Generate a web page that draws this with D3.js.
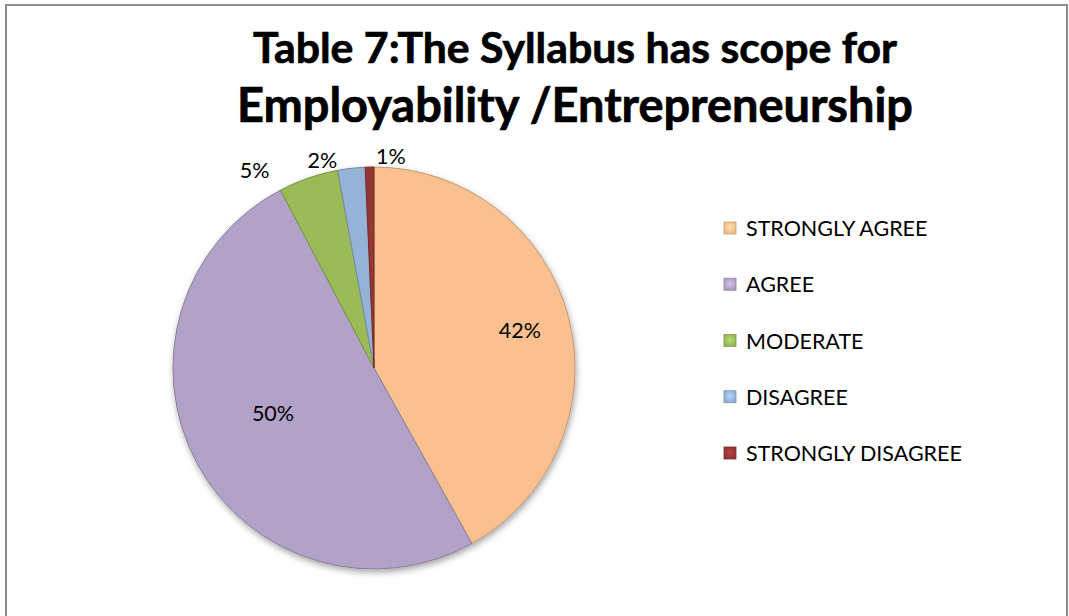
<!DOCTYPE html>
<html>
<head>
<meta charset="utf-8">
<script src="https://cdn.jsdelivr.net/npm/d3@7"></script>
<style>
  html, body { margin: 0; padding: 0; background: #ffffff; }
  svg { display: block; }
</style>
</head>
<body>
<svg id="chart" width="1069" height="616"></svg>
<script>
// ---- data ----
const categories = ["STRONGLY AGREE", "AGREE", "MODERATE", "DISAGREE", "STRONGLY DISAGREE"];
const values = [41.9, 50.4, 4.8, 2.2, 0.7];
const colors = ["#FAC08F", "#B3A2C7", "#9BBB59", "#95B3D7", "#953735"];
const titleLines = ["Table 7:The Syllabus has scope for", "Employability /Entrepreneurship"];
// label placement: radius as fraction of pie radius, angular shift (deg) from slice middle
const labelRadius = [0.75, 0.55, 1.15, 1.065, 1.06];
const labelShift = [0, 4.5, -12, -7.5, 5.8];

const W = 1069, H = 616;
const svg = d3.select("#chart");
const fontFam = "Lato, 'Open Sans', 'DejaVu Sans', sans-serif";

// defs
const defs = svg.append("defs");
const f = defs.append("filter").attr("id", "shadow").attr("x", "-20%").attr("y", "-20%").attr("width", "140%").attr("height", "140%");
f.append("feDropShadow").attr("dx", 1).attr("dy", 3).attr("stdDeviation", 3).attr("flood-color", "#000").attr("flood-opacity", 0.35);

colors.forEach((c, i) => {
  const g = defs.append("radialGradient").attr("id", "lg" + i).attr("cx", "50%").attr("cy", "45%").attr("r", "70%");
  g.append("stop").attr("offset", "0%").attr("stop-color", d3.color(c).brighter(0.5));
  g.append("stop").attr("offset", "100%").attr("stop-color", d3.color(c).darker(0.3));
});

// frame
svg.append("rect").attr("x", 6).attr("y", 5).attr("width", 1061).attr("height", 640)
  .attr("fill", "#fff").attr("stroke", "#8c8c8c").attr("stroke-width", 2);

// title
const titleTargets = [644, 676];
const titleBase = [63, 122];
titleLines.forEach((t, i) => {
  const tx = svg.append("text").attr("x", 575).attr("y", titleBase[i])
    .attr("text-anchor", "middle").attr("font-family", fontFam)
    .attr("font-weight", 700).attr("font-size", 40).attr("fill", "#000")
    .attr("stroke", "#000").attr("stroke-width", 0.7).text(t);
  const w = tx.node().getComputedTextLength();
  tx.attr("font-size", 40 * titleTargets[i] / w);
});

// pie
const cx = 374, cy = 368, R = 201;
const pie = d3.pie().sort(null).value(d => d)(values);
const arc = d3.arc().innerRadius(0).outerRadius(R);
const gPie = svg.append("g").attr("transform", `translate(${cx},${cy})`);
const gSl = gPie.append("g").attr("filter", "url(#shadow)");
gSl.selectAll("path").data(pie).enter().append("path")
  .attr("d", arc)
  .attr("fill", (d, i) => colors[i])
  .attr("stroke", (d, i) => d3.color(colors[i]).darker(0.7))
  .attr("stroke-width", 1)
  .attr("stroke-linejoin", "round");

// percent labels
const fmt = d3.format(".0f");
const lblSize = 18;
gPie.selectAll("text.pct").data(pie).enter().append("text")
  .attr("class", "pct")
  .attr("x", (d, i) => {
    const a = (d.startAngle + d.endAngle) / 2 + labelShift[i] * Math.PI / 180;
    return Math.sin(a) * R * labelRadius[i];
  })
  .attr("y", (d, i) => {
    const a = (d.startAngle + d.endAngle) / 2 + labelShift[i] * Math.PI / 180;
    return -Math.cos(a) * R * labelRadius[i];
  })
  .attr("text-anchor", "middle").attr("dominant-baseline", "central")
  .attr("font-family", fontFam).attr("font-size", lblSize).attr("fill", "#000")
  .text(d => fmt(d.value) + "%");

// legend
const legY = d3.scalePoint().domain(categories).range([228, 453]);
const gLeg = svg.append("g");
const items = gLeg.selectAll("g").data(categories).enter().append("g")
  .attr("transform", d => `translate(724,${legY(d)})`);
items.append("rect").attr("x", 0).attr("y", -6).attr("width", 12).attr("height", 12)
  .attr("fill", (d, i) => `url(#lg${i})`)
  .attr("stroke", (d, i) => d3.color(colors[i]).darker(0.5)).attr("stroke-width", 0.8);
const legTexts = items.append("text").attr("x", 22).attr("y", 0)
  .attr("dominant-baseline", "central")
  .attr("font-family", fontFam).attr("font-size", 18).attr("fill", "#000")
  .text(d => d);
// fit legend font to target width of longest entry (745 -> 962)
const longest = legTexts.filter(d => d === "STRONGLY DISAGREE").node().getComputedTextLength();
const legSize = 18 * 216 / longest;
legTexts.attr("font-size", legSize);
gPie.selectAll("text.pct").attr("font-size", legSize);
</script>
</body>
</html>
